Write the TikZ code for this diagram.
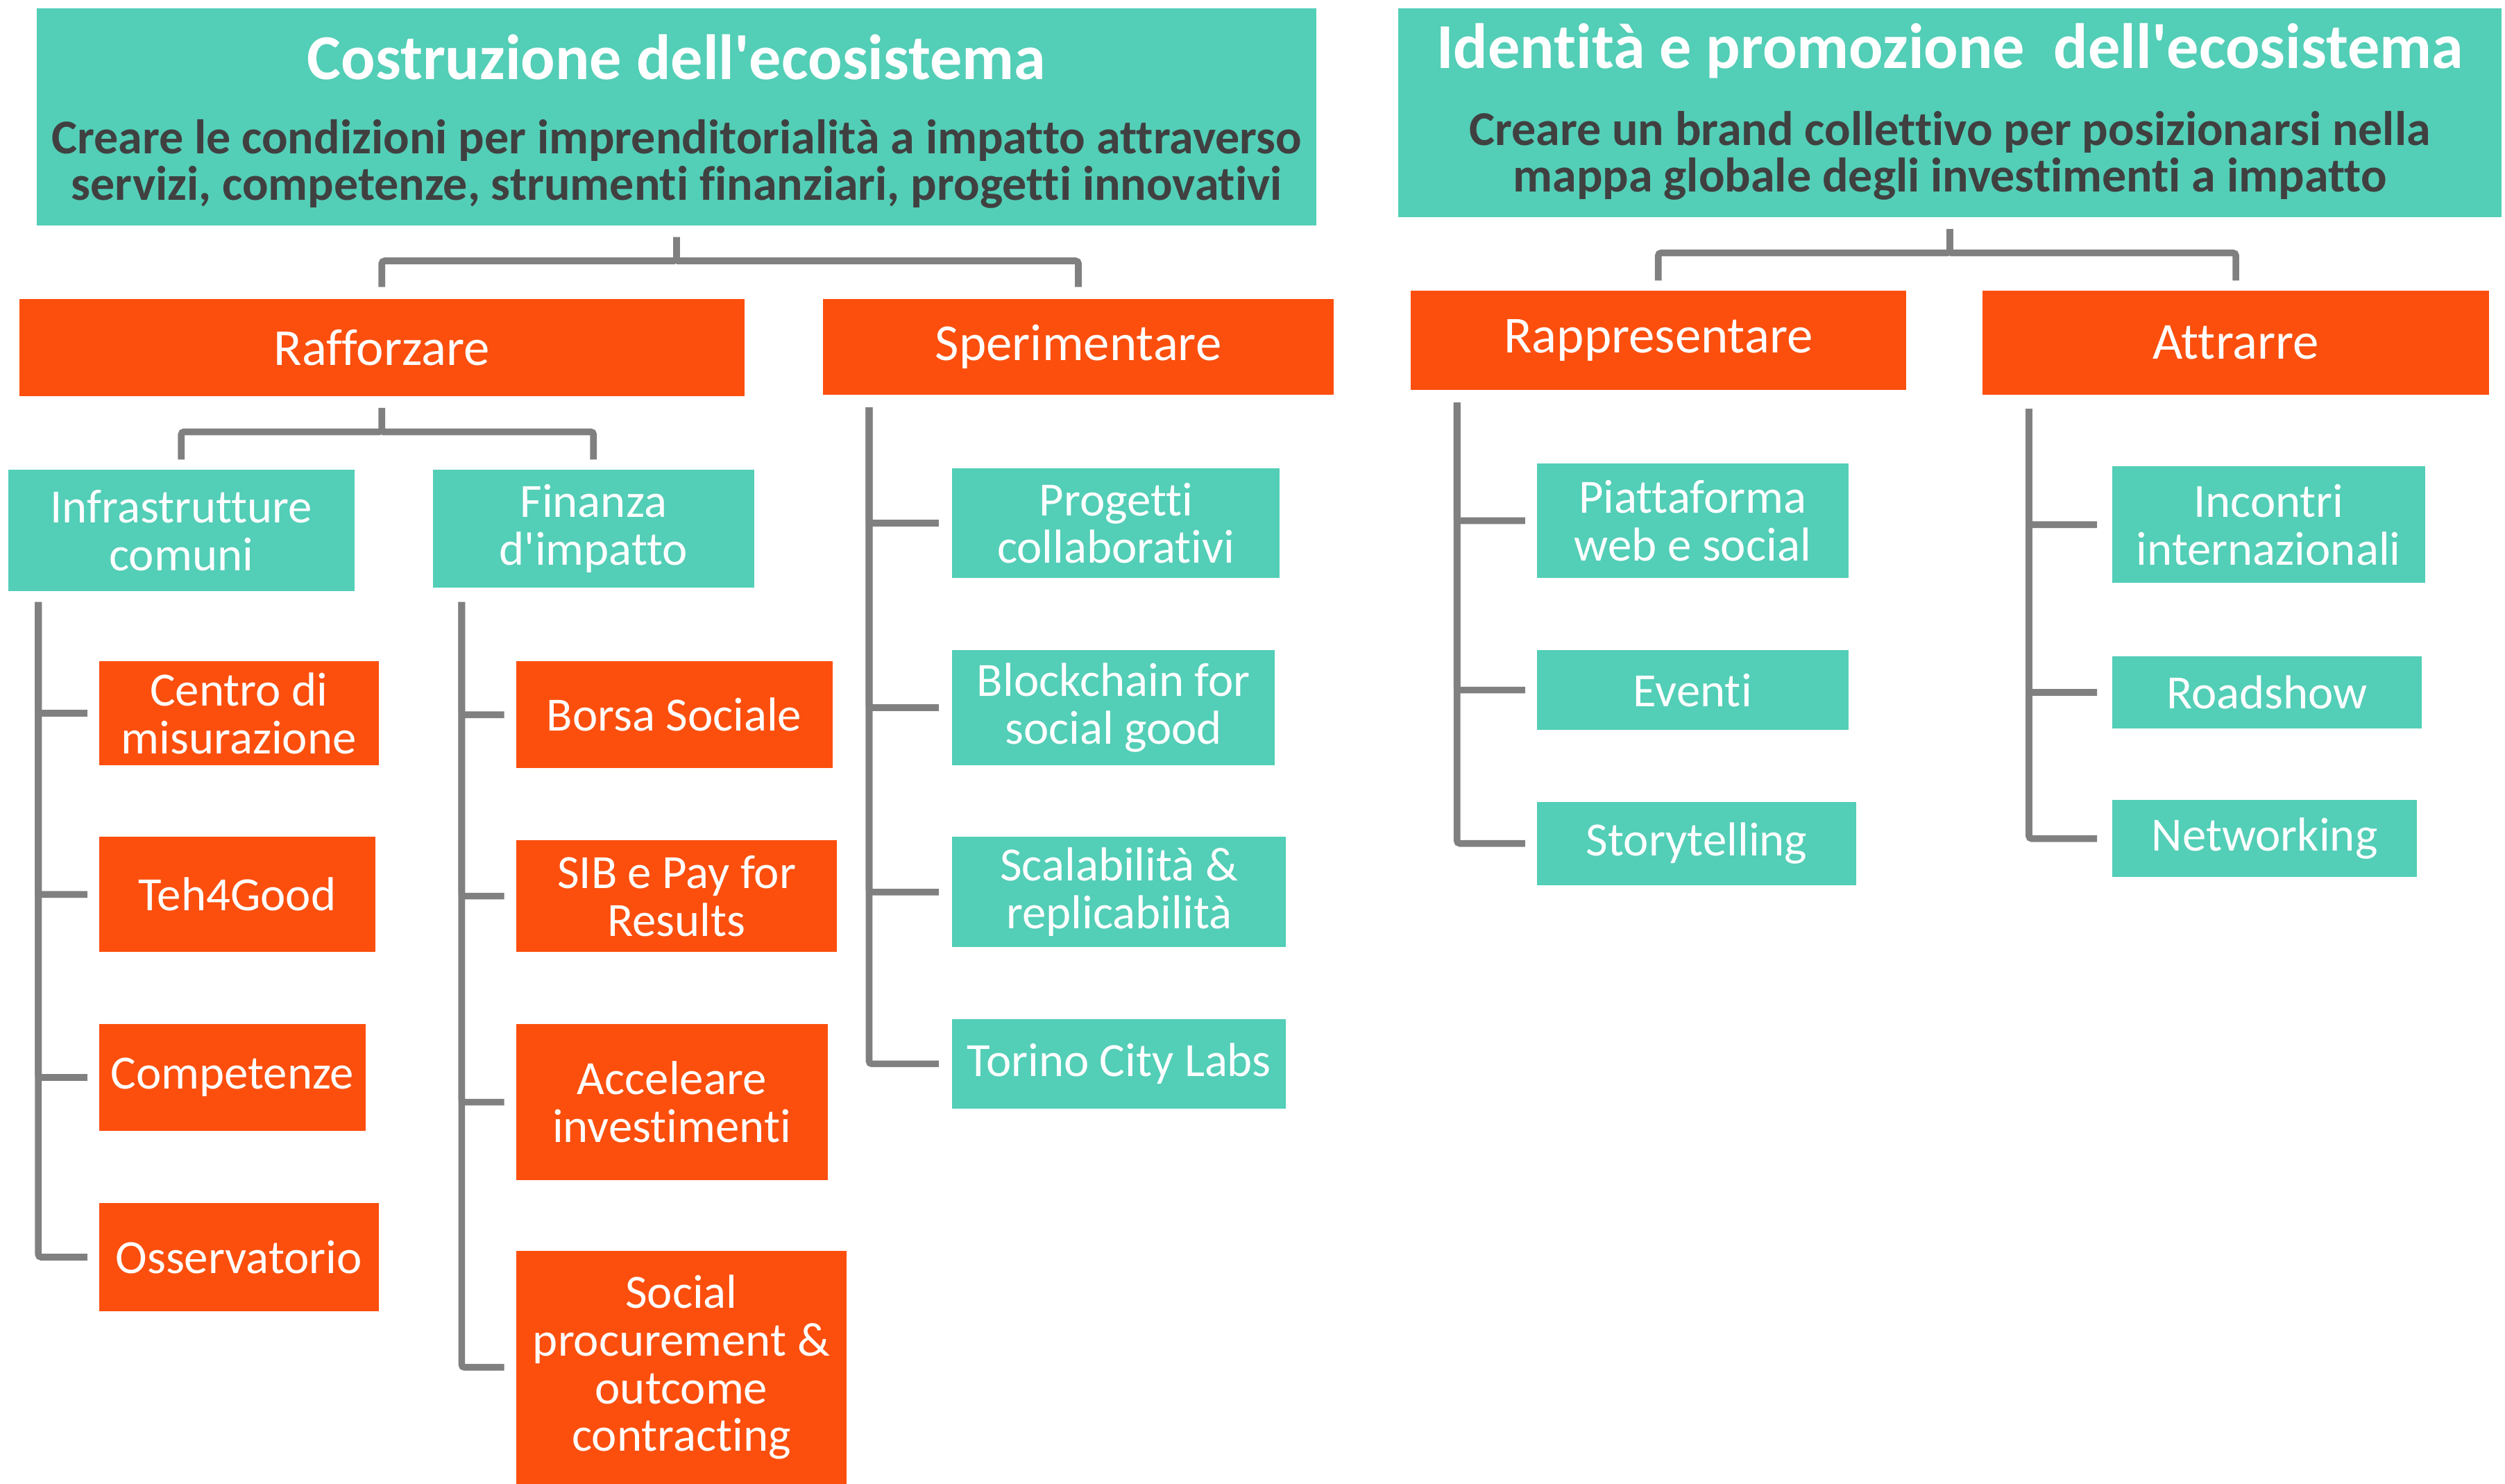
\documentclass[tikz,border=0pt]{standalone}
\usepackage{fontspec}
\setmainfont{Carlito}[Ligatures={NoCommon}]
\definecolor{verdeacqua}{RGB}{83,206,183}
\definecolor{arancio}{RGB}{252,79,14}
\definecolor{grigio}{RGB}{128,128,128}
\definecolor{scuro}{RGB}{64,64,64}
\begin{document}
\begin{tikzpicture}[
    head/.style={fill=verdeacqua, inner sep=0pt},
    headtitle/.style={text=white, font=\bfseries\fontsize{22.8}{24}\selectfont, inner sep=0pt},
    headsub/.style={text=scuro, align=center, font=\bfseries\fontsize{17.3}{16.5}\selectfont, inner sep=0pt},
    branch/.style={fill=arancio, text=white, inner sep=0pt, font=\fontsize{18.5}{19}\selectfont},
    group/.style={fill=verdeacqua, text=white, inner sep=0pt, align=center, font=\fontsize{17}{17}\selectfont},
    leafO/.style={fill=arancio, text=white, inner sep=0pt, align=center, font=\fontsize{17}{17}\selectfont},
    leafT/.style={fill=verdeacqua, text=white, inner sep=0pt, align=center, font=\fontsize{17}{17}\selectfont},
    conn/.style={draw=grigio, line width=2.4pt, rounded corners=1pt}]
    \useasboundingbox (0,0) rectangle (31.36,-18.58);

    % intestazioni
    \node[head, minimum width=16.02cm, minimum height=2.72cm] (costr) at (8.47,-1.46) {};
    \node[headtitle] (costrT) at (8.47,-0.72) {Costruzione dell\textquotesingle ecosistema};
    \node[headsub] (costrS) at (8.47,-2.05) {Creare le condizioni per imprenditorialità a impatto attraverso\\servizi, competenze, strumenti finanziari, progetti innovativi};
    \node[head, minimum width=13.82cm, minimum height=2.62cm] (ident) at (24.41,-1.41) {};
    \node[headtitle] (identT) at (24.41,-0.64) {Identità e promozione\ \ dell\textquotesingle ecosistema};
    \node[headsub] (identS) at (24.41,-1.95) {Creare un brand collettivo per posizionarsi nella\\mappa globale degli investimenti a impatto};

    % secondo livello
    \node[branch, minimum width=9.08cm, minimum height=1.22cm] (raff) at (4.78,-4.35) {Rafforzare};
    \node[branch, minimum width=6.4cm, minimum height=1.2cm] (sper) at (13.5,-4.34) {Sperimentare};
    \node[branch, minimum width=6.2cm, minimum height=1.24cm] (rapp) at (20.76,-4.26) {Rappresentare};
    \node[branch, minimum width=6.34cm, minimum height=1.3cm] (attr) at (27.99,-4.29) {Attrarre};

    \node[group, minimum width=4.34cm, minimum height=1.52cm] (infra) at (2.27,-6.64) {Infrastrutture\\comuni};
    \node[group, minimum width=4.02cm, minimum height=1.48cm] (fin) at (7.43,-6.62) {Finanza\\d\textquotesingle impatto};

    % foglie
    \node[leafO, minimum width=3.5cm, minimum height=1.3cm] (centro) at (2.99,-8.93) {Centro di\\misurazione};
    \node[leafO, minimum width=3.46cm, minimum height=1.44cm] (teh) at (2.97,-11.2) {Teh4Good};
    \node[leafO, minimum width=3.34cm, minimum height=1.34cm] (comp) at (2.91,-13.49) {Competenze};
    \node[leafO, minimum width=3.5cm, minimum height=1.36cm] (oss) at (2.99,-15.74) {Osservatorio};

    \node[leafO, minimum width=3.96cm, minimum height=1.34cm] (borsa) at (8.44,-8.95) {Borsa Sociale};
    \node[leafO, minimum width=4.02cm, minimum height=1.4cm] (sib) at (8.47,-11.22) {SIB e Pay for\\Results};
    \node[leafO, minimum width=3.9cm, minimum height=1.96cm] (acc) at (8.41,-13.8) {Acceleare\\investimenti};
    \node[leafO, minimum width=4.14cm, minimum height=2.92cm] (social) at (8.53,-17.12) {Social\\procurement \&\\outcome\\contracting};

    \node[leafT, minimum width=4.1cm, minimum height=1.38cm] (prog) at (13.97,-6.55) {Progetti\\collaborativi};
    \node[leafT, minimum width=4.04cm, minimum height=1.44cm] (block) at (13.94,-8.86) {Blockchain for\\social good};
    \node[leafT, minimum width=4.18cm, minimum height=1.38cm] (scal) at (14.01,-11.17) {Scalabilità \&\\replicabilità};
    \node[leafT, minimum width=4.18cm, minimum height=1.12cm] (torino) at (14.01,-13.32) {Torino City Labs};

    \node[leafT, minimum width=3.9cm, minimum height=1.44cm] (piatt) at (21.19,-6.52) {Piattaforma\\web e social};
    \node[leafT, minimum width=3.9cm, minimum height=1.0cm] (eventi) at (21.19,-8.64) {Eventi};
    \node[leafT, minimum width=4.0cm, minimum height=1.04cm] (story) at (21.24,-10.56) {Storytelling};

    \node[leafT, minimum width=3.92cm, minimum height=1.46cm] (incontri) at (28.4,-6.57) {Incontri\\internazionali};
    \node[leafT, minimum width=3.88cm, minimum height=0.9cm] (road) at (28.38,-8.67) {Roadshow};
    \node[leafT, minimum width=3.82cm, minimum height=0.96cm] (netw) at (28.35,-10.5) {Networking};

    % parentesi
    \coordinate (costrJ) at ([yshift=-0.44cm]costr.south);
    \draw[conn] ([yshift=-0.14cm]costr.south) -- (costrJ) -| ([yshift=0.14cm]raff.north);
    \draw[conn] (costrJ) -| ([yshift=0.14cm]sper.north);
    \coordinate (identJ) at ([yshift=-0.44cm]ident.south);
    \draw[conn] ([yshift=-0.14cm]ident.south) -- (identJ) -| ([yshift=0.12cm]rapp.north);
    \draw[conn] (identJ) -| ([yshift=0.12cm]attr.north);
    \coordinate (raffJ) at ([yshift=-0.44cm]raff.south);
    \draw[conn] ([yshift=-0.14cm]raff.south) -- (raffJ) -| ([yshift=0.12cm]infra.north);
    \draw[conn] (raffJ) -| ([yshift=0.12cm]fin.north);

    % pettini
    \coordinate (infraT) at (0.48,-7.54);
    \coordinate (finT) at (5.78,-7.54);
    \coordinate (sperT) at (10.88,-5.1);
    \coordinate (rappT) at (18.24,-5.04);
    \coordinate (attrT) at (25.4,-5.12);

    \draw[conn] (infraT) |- ([xshift=-0.14cm]centro.west);
    \draw[conn] (infraT) |- ([xshift=-0.14cm]teh.west);
    \draw[conn] (infraT) |- ([xshift=-0.14cm]comp.west);
    \draw[conn] (infraT) |- ([xshift=-0.14cm]oss.west);

    \draw[conn] (finT) |- ([xshift=-0.14cm]borsa.west);
    \draw[conn] (finT) |- ([xshift=-0.14cm]sib.west);
    \draw[conn] (finT) |- ([xshift=-0.14cm]acc.west);
    \draw[conn] (finT) |- ([xshift=-0.14cm]social.west);

    \draw[conn] (sperT) |- ([xshift=-0.16cm]prog.west);
    \draw[conn] (sperT) |- ([xshift=-0.16cm]block.west);
    \draw[conn] (sperT) |- ([xshift=-0.16cm]scal.west);
    \draw[conn] (sperT) |- ([xshift=-0.16cm]torino.west);

    \draw[conn] (rappT) |- ([xshift=-0.14cm]piatt.west);
    \draw[conn] (rappT) |- ([xshift=-0.14cm]eventi.west);
    \draw[conn] (rappT) |- ([xshift=-0.14cm]story.west);

    \draw[conn] (attrT) |- ([xshift=-0.18cm]incontri.west);
    \draw[conn] (attrT) |- ([xshift=-0.18cm]road.west);
    \draw[conn] (attrT) |- ([xshift=-0.18cm]netw.west);
\end{tikzpicture}
\end{document}
